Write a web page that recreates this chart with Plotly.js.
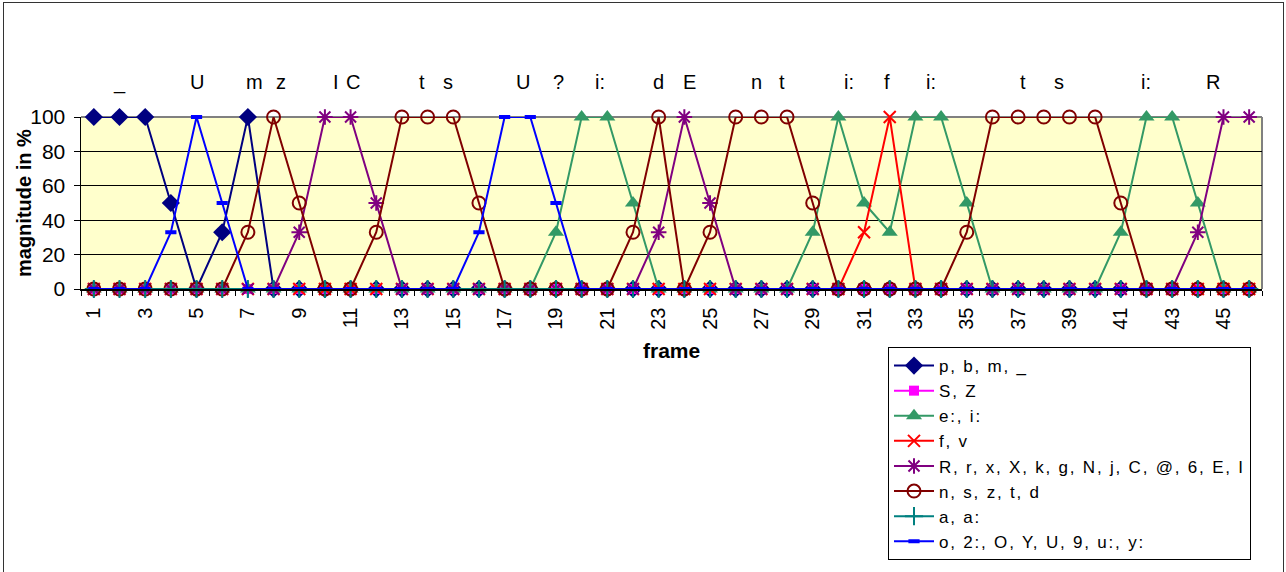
<!DOCTYPE html>
<html>
<head>
<meta charset="utf-8">
<script src="https://cdn.plot.ly/plotly-3.0.1.min.js"></script>
<style>
  html, body { margin: 0; padding: 0; background: #fff; }
  #wrap { position: relative; width: 1286px; height: 572px; overflow: hidden; }
  #chart { width: 1286px; height: 572px; }
  #frameBorder { position: absolute; left: 3px; top: 2px; width: 1279px; height: 620px;
    border: 1.5px solid #333; pointer-events: none; }
  text.legendtext { letter-spacing: 1.8px; }
</style>
</head>
<body>
<div id="wrap">
  <div id="chart"></div>
  <div id="frameBorder"></div>
</div>
<script>
// ---- data ----
const frames = [1,2,3,4,5,6,7,8,9,10,11,12,13,14,15,16,17,18,19,20,21,22,23,24,25,26,27,28,29,30,31,32,33,34,35,36,37,38,39,40,41,42,43,44,45,46];

const seriesNames = ["p, b, m, _", "S, Z", "e:, i:", "f, v",
  "R, r, x, X, k, g, N, j, C, @, 6, E, I", "n, s, z, t, d", "a, a:", "o, 2:, O, Y, U, 9, u:, y:"];

const pbm = [100,100,100,50,0,33,100,0,0,0, 0,0,0,0,0,0,0,0,0,0, 0,0,0,0,0,0,0,0,0,0, 0,0,0,0,0,0,0,0,0,0, 0,0,0,0,0,0];
const sz  = [0,0,0,0,0,0,0,0,0,0, 0,0,0,0,0,0,0,0,0,0, 0,0,0,0,0,0,0,0,0,0, 0,0,0,0,0,0,0,0,0,0, 0,0,0,0,0,0];
const ei  = [0,0,0,0,0,0,0,0,0,0, 0,0,0,0,0,0,0,0,33,100, 100,50,0,0,0,0,0,0,33,100, 50,33,100,100,50,0,0,0,0,0, 33,100,100,50,0,0];
const fv  = [0,0,0,0,0,0,0,0,0,0, 0,0,0,0,0,0,0,0,0,0, 0,0,0,0,0,0,0,0,0,0, 33,100,0,0,0,0,0,0,0,0, 0,0,0,0,0,0];
const rrx = [0,0,0,0,0,0,0,0,33,100, 100,50,0,0,0,0,0,0,0,0, 0,0,33,100,50,0,0,0,0,0, 0,0,0,0,0,0,0,0,0,0, 0,0,0,33,100,100];
const nsz = [0,0,0,0,0,0,33,100,50,0, 0,33,100,100,100,50,0,0,0,0, 0,33,100,0,33,100,100,100,50,0, 0,0,0,0,33,100,100,100,100,100, 50,0,0,0,0,0];
const aa  = [0,0,0,0,0,0,0,0,0,0, 0,0,0,0,0,0,0,0,0,0, 0,0,0,0,0,0,0,0,0,0, 0,0,0,0,0,0,0,0,0,0, 0,0,0,0,0,0];
const o2o = [0,0,0,33,100,50,0,0,0,0, 0,0,0,0,0,33,100,100,50,0, 0,0,0,0,0,0,0,0,0,0, 0,0,0,0,0,0,0,0,0,0, 0,0,0,0,0,0];

const phonemeLabels = ["_", "U", "m", "z", "I", "C", "t", "s", "U", "?", "i:", "d", "E", "n", "t", "i:", "f", "i:", "t", "s", "i:", "R"];
const phonemeFrames = [2, 5, 7.25, 8.3, 10.45, 11.1, 13.8, 14.8, 17.7, 19.1, 20.7, 23.0, 24.2, 26.8, 27.8, 30.4, 31.9, 33.6, 37.2, 38.6, 42.0, 44.6];

const yTicks = [0, 20, 40, 60, 80, 100];
const xTickLabels = ["1","3","5","7","9","11","13","15","17","19","21","23","25","27","29","31","33","35","37","39","41","43","45"];
const xTickVals = [1,3,5,7,9,11,13,15,17,19,21,23,25,27,29,31,33,35,37,39,41,43,45];

// ---- styles ----
const styles = [
  {color: "#000080", symbol: "diamond", size: 14, lw: 0},
  {color: "#FF00FF", symbol: "square", size: 10, lw: 0},
  {color: "#339966", symbol: "triangle-up", size: 14, lw: 0},
  {color: "#FF0000", symbol: "x-thin-open", size: 12, lw: 2},
  {color: "#800080", symbol: "asterisk-open", size: 13, lw: 2},
  {color: "#800000", symbol: "circle-open", size: 13, lw: 2},
  {color: "#008080", symbol: "cross-thin-open", size: 13, lw: 2},
  {color: "#0000FF", symbol: "line-ew-open", size: 8, lw: 4}
];
const seriesData = [pbm, sz, ei, fv, rrx, nsz, aa, o2o];

const traces = seriesData.map((ys, i) => ({
  type: "scatter",
  mode: "lines+markers",
  name: seriesNames[i],
  x: frames,
  y: ys,
  cliponaxis: false,
  line: {color: styles[i].color, width: 2},
  marker: {
    symbol: styles[i].symbol,
    size: styles[i].size,
    color: styles[i].color,
    line: {color: styles[i].color, width: styles[i].lw}
  }
}));

const L = 81, R = 1262, T = 117, B = 289, W = 1286, H = 572;
const ph = B - T;

const annotations = phonemeLabels.map((t, i) => ({
  text: t, x: phonemeFrames[i], xref: "x",
  y: 1 + (T - 82) / ph, yref: "paper",
  showarrow: false, xanchor: "center", yanchor: "middle",
  font: {family: "Liberation Sans, Arial, sans-serif", size: 20, color: "#000"}
}));
annotations.push({
  text: "<b>frame</b>", xref: "paper", x: 0.5, yref: "paper", y: (B - 350) / ph,
  showarrow: false, xanchor: "center", yanchor: "middle",
  font: {family: "Liberation Sans, Arial, sans-serif", size: 21, color: "#000"}
});
annotations.push({
  text: "<b>magnitude in %</b>", xref: "paper", x: (24 - L) / (R - L), yref: "paper", y: 0.5,
  textangle: -90, showarrow: false, xanchor: "center", yanchor: "middle",
  font: {family: "Liberation Sans, Arial, sans-serif", size: 20, color: "#000"}
});

const minorVals = [];
for (let k = 0; k <= frames.length; k++) minorVals.push(k + 0.5);

const layout = {
  width: W, height: H,
  margin: {l: L, r: W - R, t: T, b: H - B, pad: 0, autoexpand: false},
  paper_bgcolor: "#ffffff",
  plot_bgcolor: "#FFFFCC",
  font: {family: "Liberation Sans, Arial, sans-serif", size: 20, color: "#000"},
  showlegend: true,
  legend: {
    x: (888 - L) / (R - L), y: (B - 347) / ph, xanchor: "left", yanchor: "top",
    bgcolor: "#ffffff", bordercolor: "#000", borderwidth: 1,
    font: {size: 17, color: "#000"}, traceorder: "normal", itemwidth: 40,
    tracegroupgap: 0
  },
  xaxis: {
    range: [0.5, frames.length + 0.5],
    tickmode: "array", tickvals: xTickVals, ticktext: xTickLabels,
    tickangle: -90, ticks: "", showgrid: false, zeroline: false,
    showline: true, linecolor: "#000", linewidth: 1.5,
    tickfont: {size: 20}, ticklabelstandoff: 9,
    minor: {tickmode: "array", tickvals: minorVals, ticks: "outside", ticklen: 5, tickcolor: "#000", tickwidth: 1, showgrid: false},
    automargin: false
  },
  yaxis: {
    range: [0, 100], tickmode: "array", tickvals: yTicks,
    ticks: "outside", ticklen: 6, tickcolor: "#000",
    showgrid: true, gridcolor: "#000", gridwidth: 1,
    zeroline: false, showline: true, linecolor: "#000", linewidth: 1.5,
    tickfont: {size: 21}, ticklabelstandoff: 4,
    automargin: false
  },
  shapes: [
    {type: "line", xref: "paper", yref: "paper", x0: 0, x1: 1, y0: 1, y1: 1, layer: "between", line: {color: "#808080", width: 2}},
    {type: "line", xref: "paper", yref: "paper", x0: 1, x1: 1, y0: 0, y1: 1, layer: "between", line: {color: "#808080", width: 2}}
  ],
  annotations: annotations
};

Plotly.newPlot("chart", traces, layout, {displayModeBar: false, staticPlot: true});
</script>
</body>
</html>
